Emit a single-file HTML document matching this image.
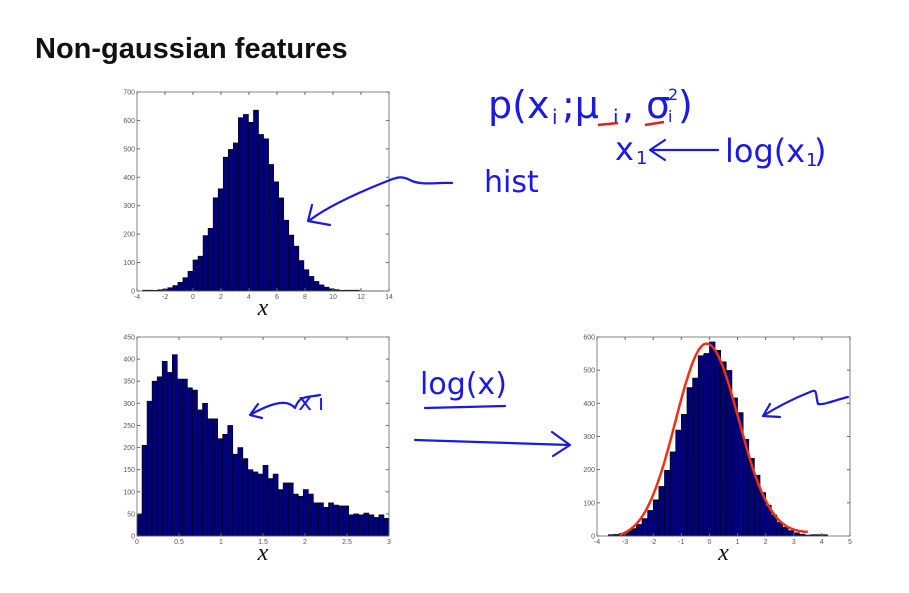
<!DOCTYPE html>
<html><head><meta charset="utf-8"><style>
body{margin:0;background:#fff;width:909px;height:593px;overflow:hidden}
svg{display:block}
.t{font-family:"Liberation Sans",sans-serif;font-size:7px;fill:#555}
.xl{font-family:"Liberation Serif",serif;font-style:italic;font-size:24px;fill:#111}
.h{fill:none;stroke:#1a1ae0;stroke-width:2.2;stroke-linecap:round;stroke-linejoin:round}
.hw{font-family:"DejaVu Sans",sans-serif;fill:#1a1ae0}
</style></head><body>
<svg id="s" width="909" height="593" xmlns="http://www.w3.org/2000/svg">
<text x="35" y="58" font-family="Liberation Sans,sans-serif" font-weight="bold" font-size="29" fill="#111">Non-gaussian features</text>
<g id="p1"></g><g id="p2"></g><g id="p3"></g>
<text class="hw" x="488" y="118" font-size="38">p(x</text>
<text class="hw" x="552" y="124" font-size="20">i</text>
<text class="hw" x="562" y="118" font-size="38">;μ</text>
<text class="hw" x="613" y="124" font-size="20">i</text>
<text class="hw" x="622" y="118" font-size="38">, σ</text>
<text class="hw" x="668" y="100" font-size="16">2</text>
<text class="hw" x="668" y="122" font-size="16">i</text>
<text class="hw" x="678" y="118" font-size="38">)</text>
<path d="M598 125 L618 123 M645 125 L664 122" stroke="#e02010" stroke-width="2.5" fill="none"/>
<text class="hw" x="615" y="160" font-size="32">x</text>
<text class="hw" x="636" y="164" font-size="18">1</text>
<path class="h" d="M650 150 L718 150 M665 140 L650 150 L665 160"/>
<text class="hw" x="725" y="162" font-size="32">log(x</text>
<text class="hw" x="806" y="166" font-size="18">1</text>
<text class="hw" x="814" y="162" font-size="32">)</text>
<text class="hw" x="484" y="192" font-size="30">hist</text>
<path class="h" d="M452 183 C440 182 420 186 410 180 C400 175 395 178 385 182 C360 192 330 205 310 220 M312 205 L308 221 L330 225"/>
<text class="hw" x="420" y="394" font-size="30">log(x)</text>
<path class="h" d="M425 408 L505 406"/>
<path class="h" d="M415 440 L570 445 M552 432 L570 445 L553 456"/>
<path class="h" d="M320 395 C305 398 300 395 295 408 C290 402 280 398 250 415 M258 404 L250 415 L262 418"/>
<text class="hw" x="298" y="410" font-size="24">x</text><text class="hw" x="318" y="410" font-size="22">ı</text>
<path class="h" d="M848 397 C835 400 825 405 818 404 C815 394 818 388 810 392 C795 398 780 405 763 416 M770 404 L763 416 L780 417"/>
</svg>
<script>
const NS="http://www.w3.org/2000/svg";
function el(p,t,a,txt){const e=document.createElementNS(NS,t);for(const k in a)e.setAttribute(k,a[k]);if(txt!=null)e.textContent=txt;p.appendChild(e);return e}
function plot(id,L,T,R,B,x0,x1,y0,y1,xt,yt,bars,bw){
 const g=document.getElementById(id);
 const X=v=>L+(v-x0)/(x1-x0)*(R-L), Y=v=>B-(v-y0)/(y1-y0)*(B-T);
 let d="";
 bars.forEach(([x,h])=>{if(h<=0)return;d+=`M${X(x)} ${B}V${Y(h)}H${X(x+bw)}V${B}Z`});
 el(g,"path",{d:d,fill:"#00007a",stroke:"#000",'stroke-width':0.6});
 el(g,"rect",{x:L,y:T,width:R-L,height:B-T,fill:"none",stroke:"#666",'stroke-width':0.8});
 xt.forEach(v=>{el(g,"line",{x1:X(v),x2:X(v),y1:B,y2:B-3,stroke:"#666"});el(g,"line",{x1:X(v),x2:X(v),y1:T,y2:T+3,stroke:"#666"});el(g,"text",{x:X(v),y:B+8,'text-anchor':"middle",class:"t"},String(v))});
 yt.forEach(v=>{el(g,"line",{x1:L,x2:L+3,y1:Y(v),y2:Y(v),stroke:"#666"});el(g,"line",{x1:R,x2:R-3,y1:Y(v),y2:Y(v),stroke:"#666"});el(g,"text",{x:L-2,y:Y(v)+2.5,'text-anchor':"end",class:"t"},String(v))});
 el(g,"text",{x:(L+R)/2,y:B+24,'text-anchor':"middle",class:"xl"},"x");
 return {X,Y};
}
let b1=[],bw1=0.36,n1=[0,0,0,0,0,0,0,0,0,0,10,-15,10,-20,25,-10,35,0,-30,20,10,-20,40,-10,25,-5,0,10,-5,0,10,0,0,0,0,0,0,0,0,0,0,0,0,0,0,0,0,0,0,0];
for(let i=0;i<48;i++){const x=-3.6+i*bw1;const c=x+bw1/2;let h=615*Math.exp(-Math.pow(c-4,2)/(2*2*2))+(n1[i]||0);if(h<2&&h>0.3)h=3;b1.push([x,h])}
plot("p1",137,92,389,291,-4,14,0,700,[-4,-2,0,2,4,6,8,10,12,14],[0,100,200,300,400,500,600,700],b1,bw1);
const h2=[50,205,305,350,360,395,370,410,355,355,335,330,285,300,265,265,220,230,250,185,200,175,150,145,140,160,130,140,105,120,120,95,90,105,95,75,75,65,75,70,68,68,48,50,48,52,48,42,48,40];
plot("p2",137,337,389,536,0,3,0,450,[0,0.5,1,1.5,2,2.5,3],[0,50,100,150,200,250,300,350,400,450],h2.map((h,i)=>[i*0.06,h]),0.06);
let b3=[],bw3=0.2,n3=[0,0,0,0,0,0,0,0,0,0,0,0,5,-10,10,-15,10,-10,15,0,-5,15,-10,10,-5,0,5,0,0,0,0,0,0,0,0,0,0,0];
for(let i=0;i<40;i++){const x=-3.6+i*bw3,c=x+bw3/2;const s=c<0.1?1.1:1.05;let h=570*Math.exp(-Math.pow(c-0.1,2)/(2*s*s))+(n3[i]||0);if(h<3)h=h>0.2?4:0;b3.push([x,h])}
const P=plot("p3",597,337,850,536,-4,5,0,600,[-4,-3,-2,-1,0,1,2,3,4,5],[0,100,200,300,400,500,600],b3,bw3);
let d="";for(let x=-3.2;x<=3.5;x+=0.05){const s=x<-0.1?1.1:1.15;const y=588*Math.exp(-Math.pow(x+0.1,2)/(2*s*s))+(x>1.5?8*(x-1.5):0)-8;d+=(d?"L":"M")+P.X(x).toFixed(1)+" "+P.Y(y).toFixed(1)}
el(document.getElementById("p3"),"path",{d:d,fill:"none",stroke:"#f03010",'stroke-width':2.5});
</script>
</body></html>
